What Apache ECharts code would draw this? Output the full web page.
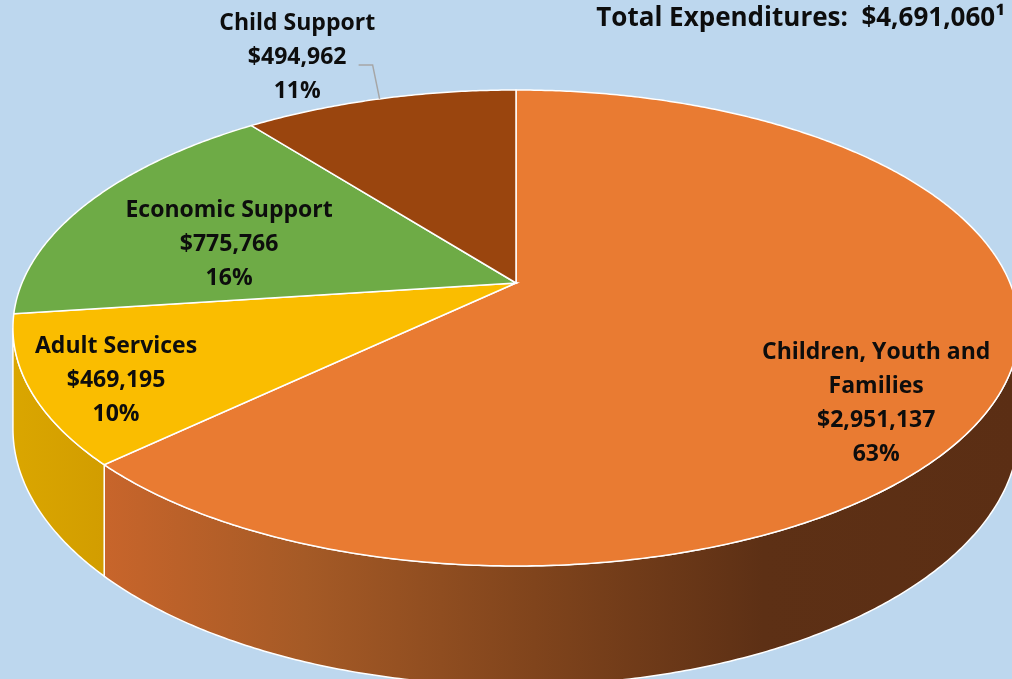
<!DOCTYPE html>
<html><head><meta charset="utf-8">
<script src="https://cdn.jsdelivr.net/npm/echarts@6/dist/echarts.min.js"></script>
<style>html,body{margin:0;padding:0;background:#BDD7EE}#c{width:1012px;height:679px}</style>
</head><body><div id="c"></div>
<script>
// ---- data ----
const categories = ['Children, Youth and Families', 'Adult Services', 'Economic Support', 'Child Support'];
const labelNames = ['Children, Youth and\nFamilies', 'Adult Services', 'Economic Support', 'Child Support'];
const values = [2951137, 469195, 775766, 494962];
const valueLabels = ['$2,951,137', '$469,195', '$775,766', '$494,962'];
const percentLabels = ['63%', '10%', '16%', '11%'];
const totalLabel = 'Total Expenditures:  $4,691,060\u00B9';

// ---- styling / layout ----
const topColors = ['#E97B32', '#FABD00', '#6EAB46', '#9A450E'];
const sideStops = [
  [[0, '#C8652B'], [0.22, '#A55A26'], [0.47, '#80441C'], [0.72, '#5D3015'], [1, '#5B2E14']],
  [[0, '#DAA600'], [1, '#D29D00']],
  [[0, '#5E9139'], [1, '#4F7B30']],
  [[0, '#83390B'], [1, '#6E300A']]
];
// label placement on the pie plane: angle offset from slice middle (deg), radius fraction
const labelPlace = [[12.6, 0.818], [-2.1, 0.846], [-6.2, 0.624], [-5.3, 1.322]];
const CX = 516, CY = 283, AX = 494, BY = 229.5, K = 0.189, DEPTH = 97;
const LABEL_FONT = 'bold 23px "Open Sans"';
const TITLE_FONT = 'bold 26px "Open Sans"';

const total = values.reduce((a, b) => a + b, 0);
const starts = [], ends = [];
let acc = 0;
values.forEach(v => { starts.push(acc / total * 360); acc += v; ends.push(acc / total * 360); });

function proj(aDeg, r) {
  const a = aDeg * Math.PI / 180;
  const u = r * Math.sin(a), v = -r * Math.cos(a);
  const w = 1 - K * v;
  return [CX + AX * u / w, CY + BY * v / w, w];
}
const SIL0 = Math.acos(-K) * 180 / Math.PI;      // right silhouette
const SIL1 = 360 - SIL0;                          // left silhouette

function arcPts(a0, a1, step) {
  const pts = [];
  const n = Math.max(2, Math.ceil((a1 - a0) / step));
  for (let j = 0; j <= n; j++) pts.push(proj(a0 + (a1 - a0) * j / n, 1));
  return pts;
}

function renderSide(params, api) {
  const i = params.dataIndex;
  const s0 = Math.max(starts[i], SIL0), s1 = Math.min(ends[i], SIL1);
  if (s1 <= s0) return null;
  const rim = arcPts(s0, s1, 0.5);
  const top = rim.map(p => [p[0], p[1]]);
  const bot = rim.map(p => [p[0], p[1] + DEPTH / p[2]]).reverse();
  return {
    type: 'polygon',
    shape: { points: top.concat(bot) },
    style: {
      fill: new echarts.graphic.LinearGradient(0, 0, 1, 0, sideStops[i].map(s => ({ offset: s[0], color: s[1] }))),
      stroke: '#FFFFFF', lineWidth: 1.5
    }
  };
}

function renderTop(params, api) {
  const i = params.dataIndex;
  const rim = arcPts(starts[i], ends[i], 0.5).map(p => [p[0], p[1]]);
  const pts = [[CX, CY]].concat(rim);
  const children = [{
    type: 'polygon', shape: { points: pts },
    style: { fill: topColors[i], stroke: '#FFFFFF', lineWidth: 1.5 }
  }];
  const mid = (starts[i] + ends[i]) / 2;
  const lp = proj(mid + labelPlace[i][0], labelPlace[i][1]);
  const txt = labelNames[i] + '\n' + valueLabels[i] + '\n' + percentLabels[i];
  children.push({
    type: 'text', x: lp[0], y: lp[1], z2: 10,
    style: {
      text: txt, font: LABEL_FONT, fill: '#0D0D0D',
      align: 'center', verticalAlign: 'middle', lineHeight: 34
    }
  });
  if (labelPlace[i][1] > 1) {
    const rp = proj(mid, 1);
    children.push({
      type: 'polyline', z2: 9,
      shape: { points: [[rp[0], rp[1]], [rp[0] - 7, rp[1] - 34], [rp[0] - 21, rp[1] - 34]] },
      style: { stroke: '#A6A6A6', lineWidth: 1.5, fill: null }
    });
  }
  return { type: 'group', children: children };
}

const chart = echarts.init(document.getElementById('c'), null, { renderer: 'canvas' });
chart.setOption({
  backgroundColor: '#BDD7EE',
  animation: false,
  graphic: [{
    type: 'text', right: 7, top: 6,
    style: { text: totalLabel, font: TITLE_FONT, fill: '#0D0D0D' }
  }],
  series: [
    { type: 'custom', name: 'side', coordinateSystem: 'none', z: 1,
      data: values.map((v, i) => ({ name: categories[i], value: v })), renderItem: renderSide, silent: true },
    { type: 'custom', name: 'top', coordinateSystem: 'none', z: 2,
      data: values.map((v, i) => ({ name: categories[i], value: v })), renderItem: renderTop, silent: true }
  ]
});
</script></body></html>
